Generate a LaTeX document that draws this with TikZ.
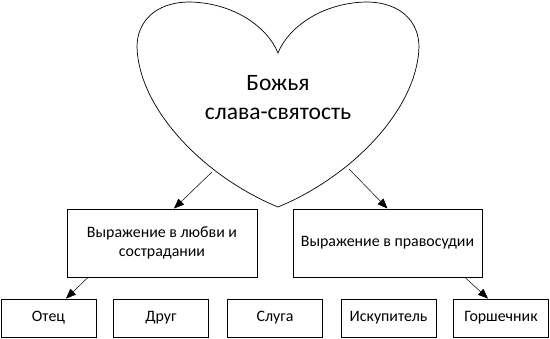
\documentclass[tikz,border=0pt]{standalone}
\usepackage{fontspec}
\setmainfont{Carlito}
\usetikzlibrary{arrows.meta,calc}
\begin{document}
\begin{tikzpicture}[x=1pt,y=-1pt,
  box/.style={draw=black,line width=0.9pt,fill=white,inner sep=0pt,align=center,
    font=\fontsize{15.9}{19.5}\selectfont},
  midbox/.style={box,minimum width=190pt,minimum height=68pt},
  lowbox/.style={box,minimum width=95pt,minimum height=38pt},
  arr/.style={line width=0.5pt,-{Triangle[length=10pt,width=8pt]}},
  heartline/.style={line width=0.7pt}]
\useasboundingbox (0,0) rectangle (550,339);
% heart
\draw[heartline] (278,53) .. controls (268,28) and (235,3) .. (190,2)
  .. controls (155,2) and (137,22) .. (137,47)
  .. controls (139,110) and (205,177) .. (278,207)
  .. controls (351,177) and (417,110) .. (419,47)
  .. controls (419,22) and (401,2) .. (366,2)
  .. controls (321,3) and (288,28) .. (278,53) -- cycle;
\node[align=center,font=\fontsize{23.5}{29}\selectfont] (heart) at (278,98) {Божья\\слава-святость};
\coordinate (hl) at (212,172);
\coordinate (hr) at (349,169);
% mid boxes
\node[midbox] (lbox) at (162,243) {Выражение в любви и\\сострадании};
\node[midbox,minimum width=189pt] (rbox) at (387.5,243) {Выражение в правосудии};
% bottom boxes
\node[lowbox] (b1) at (48.5,318) {Отец};
\node[lowbox] (b2) at (161,318) {Друг};
\node[lowbox] (b3) at (275,318) {Слуга};
\node[lowbox] (b4) at (388.5,318) {Искупитель};
\node[lowbox] (b5) at (501,318) {Горшечник};
% arrows
\draw[arr] (hl) -- ($(lbox.north)+(12,0)$);
\draw[arr] (hr) -- (rbox.north);
\draw[arr] ($(lbox.south)+(-74,0)$) -- ($(b1.north)+(17.5,0)$);
\draw[arr] ($(rbox.south)+(77.5,0)$) -- ($(b5.north)+(-13,0)$);
\end{tikzpicture}
\end{document}
